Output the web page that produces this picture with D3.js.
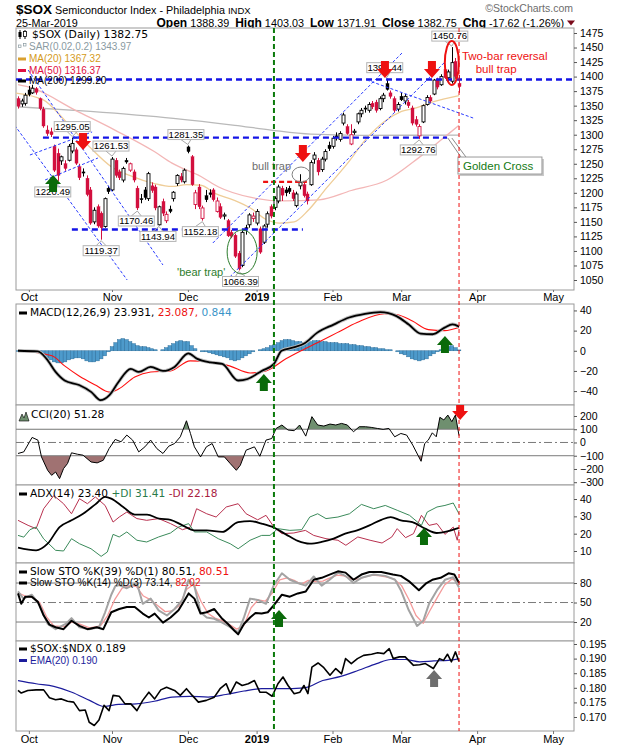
<!DOCTYPE html>
<html><head><meta charset="utf-8">
<script src="https://cdn.jsdelivr.net/npm/d3@7/dist/d3.min.js"></script>
<style>body{margin:0;background:#fff}svg{display:block}</style>
</head><body><svg id="c" width="620" height="750"></svg>
<script>
// ---------------- DATA ----------------
// Daily candles [open, high, low, close], 26-Sep-2018 .. 25-Mar-2019
const candles = [
[1362,1366,1345,1349],[1353,1362,1348,1358],[1354,1372,1350,1368],[1377,1384,1366,1369],[1372,1386,1370,1380],
[1379,1382,1369,1373],[1362,1364,1342,1345],[1344,1348,1312,1315],[1308,1316,1298,1302],[1305,1312,1296,1300],
[1280,1283,1236,1239],[1268,1276,1220.49,1230],[1255,1264,1248,1262],[1250,1256,1238,1242],[1256,1284,1254,1280],
[1272,1295.05,1268,1285],[1274,1278,1248,1251],[1245,1250,1222,1226],[1236,1242,1228,1234],[1225,1230,1194,1197],
[1205,1210,1145,1148],[1150,1175,1146,1170],[1176,1180,1140,1143],[1165,1168,1119.37,1140],[1142,1192,1140,1190],
[1208,1212,1198,1202],[1205,1261.53,1203,1258],[1256,1260,1226,1230],[1236,1240,1222,1226],[1222,1245,1218,1242],
[1256,1260,1250,1253],[1239,1252,1236,1250],[1236,1240,1218,1222],[1208,1212,1170.46,1174],[1190,1198,1182,1188],
[1205,1210,1188,1192],[1190,1236,1186,1233],[1212,1218,1200,1204],[1210,1214,1170,1174],[1145,1178,1143.94,1176],
[1185,1190,1160,1165],[1152,1168,1148,1163],[1172,1178,1165,1168],[1190,1203,1185,1201],[1216,1232,1212,1230],
[1228,1234,1218,1222],[1219,1242,1216,1239],[1279,1281.35,1268,1271],[1262,1265,1212,1214],[1180,1205,1172,1200],
[1210,1215,1172,1176],[1156,1178,1152.18,1174],[1195,1205,1184,1188],[1200,1206,1192,1197],[1205,1208,1185,1188],
[1168,1192,1166,1186],[1176,1182,1155,1158],[1160,1166,1154,1162],[1152,1155,1124,1126],[1132,1136,1122,1125],
[1127,1130,1088,1091],[1096,1100,1066.39,1069],[1075,1135,1072,1132],[1140,1145,1128,1138],[1145,1165,1140,1162],
[1156,1166,1150,1160],[1148,1172,1144,1168],[1138,1142,1095,1098],[1115,1146,1112,1143],[1146,1168,1140,1164],
[1176,1180,1156,1160],[1175,1194,1170,1190],[1186,1214,1182,1210],[1208,1212,1186,1196],[1205,1210,1194,1200],
[1208,1212,1198,1202],[1200,1205,1186,1190],[1178,1202,1175,1198],[1212,1232,1206,1218],[1214,1220,1192,1195],
[1198,1202,1180,1186],[1214,1256,1212,1252],[1258,1270,1250,1265],[1256,1260,1230,1236],[1240,1262,1236,1258],
[1258,1275,1254,1271],[1282,1288,1272,1276],[1280,1298,1276,1294],[1298,1304,1290,1296],[1292,1306,1288,1302],
[1320,1338,1316,1334],[1314,1318,1300,1302],[1284,1318,1282,1300],[1304,1310,1300,1306],[1322,1338,1318,1336],
[1336,1346,1330,1342],[1346,1350,1338,1344],[1342,1356,1338,1352],[1354,1358,1344,1348],[1356,1360,1338,1342],
[1345,1366,1342,1362],[1362,1372,1356,1368],[1388,1396.44,1376,1378],[1372,1376,1362,1366],[1362,1366,1338,1342],
[1344,1356,1340,1352],[1366,1372,1358,1360],[1358,1370,1352,1366],[1356,1360,1346,1350],[1346,1350,1316,1320],
[1326,1332,1314,1318],[1298,1318,1292.76,1314],[1322,1352,1320,1350],[1352,1368,1350,1364],[1364,1368,1354,1358],
[1370,1396,1368,1394],[1394,1398,1378,1382],[1386,1404,1384,1400],[1412,1418,1396,1398],[1398,1412,1392,1408],
[1392,1450.76,1388,1424],[1426,1432,1396,1400.37],[1388.39,1403.03,1371.91,1382.75]
];
const monthLabels = ["Oct","Nov","Dec","2019","Feb","Mar","Apr","May"];
const monthIdx = [3,26,47,66,87,106,127,148];
const priceTicks = [1050,1075,1100,1125,1150,1175,1200,1225,1250,1275,1300,1325,1350,1375,1400,1425,1450,1475];
const macdTicks = [40,20,0,-20,-40];
const cciTicks = [200,100,0,-100,-200,-300];
const adxTicks = [40,30,20,10];
const stoTicks = [80,50,20];
const ratioTicks = [0.195,0.190,0.185,0.180,0.175,0.170];

// moving averages [barIndex, value]
const ma20 = [[-1,1372],[7,1360],[12.9,1325],[19.8,1279],[25.8,1245],[31.7,1228],[37.7,1216],[42.6,1211],[46.6,1214],[50.6,1213],[54.5,1199],[59.5,1188],[64.5,1173],[68.4,1155],[72.4,1148],[76.4,1150],[80.3,1170],[85.3,1208],[91.2,1251],[96.2,1292],[101.2,1322],[106.1,1340],[110.1,1346],[115,1357],[122,1367.32]];
const ma50 = [[0,1386],[4,1380],[15.9,1342],[26.8,1308],[37.7,1271],[42.6,1251],[50.6,1228],[55.5,1210],[64.5,1192],[73.4,1186],[83.3,1188],[92.2,1204],[102.1,1222],[111,1261],[119,1301],[122,1316.37]];
const ma200 = [[0,1348],[20,1340],[43,1328],[60,1316],[70,1308],[81,1301],[95,1299],[122,1299.2]];

const macdLine = [[0,0],[5.5,-0.7],[7.9,-8],[10.4,-21],[12.9,-29.5],[16.9,-34],[20.3,-41],[22.8,-49],[25.3,-44],[27.8,-31],[31.2,-18],[33.4,-21],[36.7,-16],[40.1,-20],[43.3,-16],[47.1,-2.6],[49.6,-8],[53.2,-11.5],[56.5,-13],[60.9,-29.5],[63.5,-28],[67.4,-20],[70.8,-13],[72.9,0],[76.2,3.3],[79.3,7.5],[82.8,18],[87.3,26],[91.6,33],[96,36.7],[100.2,38.4],[104.7,34.4],[108.1,26],[111.4,17],[114.7,16.4],[118,23],[120.2,26.2],[122,23.931]];
const macdSignal = [[0,0],[9.4,-5],[12.9,-15],[16.9,-25],[21.4,-34],[25.3,-41],[27.8,-38],[32.3,-26],[36.7,-21],[42.2,-20],[47.6,-10],[53.2,-11],[58.5,-15],[64.2,-22],[68.6,-20],[74.1,-8],[78.3,0],[82.8,8],[88.3,18],[93.8,28],[101.4,36.7],[104.7,36],[109.1,29.5],[113.5,21],[118,20],[122,23.087]];
const macdHist = [-0.5,-0.8,-1,-1,-0.8,-1,-2,-4,-7,-9,-11,-12,-12,-11,-9,-8,-7,-7,-8,-10,-11,-11,-10,-8,-5,-1,
4,8,11,12,11,9,7,5,4,4,3,2,1,0,1,3,5,7,9,10,9,9,5,2,0,-1,-1,-2,-3,-4,-5,-6,-7,-9,-10,-9,-7,-5,-3,-1,0,1,
2,3,5,6,8,10,11,11,10,9,9,8,8,9,10,10,9,9,8,8,8,7,7,7,6,6,5,5,4,4,3,3,2,2,1,1,0,-1,
-3,-4,-6,-8,-9,-10,-9,-8,-5,-3,-1,1,3,4,5,3,0.844];

const cci = [[0,-83],[1.6,-71],[3.9,38],[5.5,18],[6.5,-109],[8.2,-210],[9.3,-248],[10.4,-223],[11.5,-273],[12.6,-197],[13.7,-159],[14.8,-78],[16.5,-89],[18,-96],[20.2,-147],[21.9,-154],[23.6,-134],[25.2,-46],[26.9,23],[28.5,5],[30.1,56],[31.7,18],[33.4,-71],[35.1,-33],[36.7,18],[38.4,-46],[40.1,-83],[41.7,-28],[43.3,-8],[44.9,43],[46.6,164],[47.7,68],[48.8,-33],[50.5,-109],[52.1,-33],[53.7,-8],[55.4,-109],[57.1,-109],[58.7,-159],[60.4,-210],[61.5,-172],[63.1,-58],[65.4,-33],[66.9,-104],[68.6,18],[70.2,30],[71.4,106],[73,132],[74.7,94],[76.4,89],[77.9,132],[79.6,48],[81.3,195],[82.9,132],[84.6,124],[86.3,139],[87.9,132],[89.5,144],[91.1,132],[92.8,81],[94.4,119],[96.1,119],[97.7,114],[99.4,106],[101,99],[102.6,106],[104.2,43],[105.9,68],[107.5,56],[109.2,-20],[111.5,-142],[112.5,-8],[113.5,18],[114.6,73],[115.7,43],[116.7,190],[117.8,170],[118.9,207],[120,157],[121,207],[122,51.28]];

const adx = [[0,11.9],[5,10.4],[8.2,14.2],[11.5,23.8],[14.8,27.7],[18,31.5],[21.4,36.9],[24.1,41.2],[25.8,40.2],[29.1,35.4],[32.3,31],[35.7,31],[39,28.7],[42.2,28],[45.5,24.8],[48.8,21.9],[52.2,21.9],[56.5,21],[60.9,26.7],[64.2,27.3],[67.4,25.8],[70.8,23.5],[74.1,19.6],[77.4,15.8],[80.7,14.2],[84,15.2],[87.3,17.1],[90.5,20],[93.8,21.9],[97.2,24.8],[100.5,28],[103.1,29.6],[105.9,27.7],[109.1,26.7],[112.6,22.9],[115.8,20.4],[119,21.5],[122,23.40]];
const plusDI = [[0,19],[1.6,18],[3.3,22.3],[5,23.8],[7.1,17],[10.4,10.4],[12.6,10],[14.8,17.1],[17,14.2],[20.2,11.3],[23,6.9],[24.7,9.4],[26.3,19.6],[28,18.1],[30.1,21],[32.9,16.2],[35.6,15.2],[38.9,18.1],[42.2,20.4],[44.4,23.8],[47.2,25.8],[48.8,21],[52.2,21],[55.4,17.1],[58.7,14.2],[60.9,11.3],[64.2,16.2],[67.4,19],[69.7,19],[71.9,22.9],[75.2,21.9],[78.5,22.3],[80.7,29.6],[82.9,31.5],[85.2,28.7],[88.5,29.6],[91.7,31.5],[95,36.9],[98.4,34.4],[101.6,36.3],[104.9,33.5],[108.3,30.6],[111.6,24.8],[113.2,32.5],[115.9,35.4],[118.1,36.3],[120.4,37.7],[122,31.41]];
const minusDI = [[0,27.7],[2.8,24.8],[5,22.9],[7.1,34.4],[9.9,42],[12.6,37.3],[14.8,31.5],[17,40.2],[19.2,37.3],[21.4,41.2],[24.1,36.3],[26.3,26.7],[28,29.6],[30.1,32.5],[32.9,28.7],[35.6,27.7],[38.9,28.7],[42.2,25.8],[45.5,22.3],[47.7,23.8],[49.4,34.4],[52.2,31.5],[54.8,29.6],[57.6,35.4],[60.9,37.3],[63.1,31.5],[66.3,28],[68.6,30.6],[70.8,23.8],[73,20],[76.3,20.4],[79.5,21.9],[81.8,19],[85.2,17.1],[88.5,16.2],[90.7,13.3],[94,18.1],[97.4,16.2],[100.7,14.6],[103.4,18.1],[104.9,22.9],[107.2,17.7],[109.4,20],[111.6,30.6],[113.7,24.8],[115.9,25.8],[118.1,19.6],[120.4,23.8],[121.5,16.2],[122,22.18]];

const sto39 = [[0,64],[0.9,48],[2,59],[3.8,59],[5.5,51],[7.1,30],[8.7,16],[10.4,12],[12.6,9],[14.8,22],[17,14],[19.2,9],[21.8,12],[23.6,9],[25.8,35],[28,40],[30.1,43],[32.3,43],[34.5,33],[36.2,27],[37.8,33],[40.1,19],[42.2,27],[44.4,38],[47.2,64],[48.8,56],[50.5,33],[52.2,35],[54.3,40],[56.5,25],[58.1,17],[59.8,7],[60.9,1],[62.5,17],[64.2,27],[65.7,34],[67.4,33],[69.1,35],[70.8,46],[73,62],[75.2,59],[77.4,64],[79.6,67],[81.8,85],[84,88],[86.2,93],[88.5,98],[90.6,96],[92.8,85],[95,93],[97.2,97],[100.5,97],[103.7,93],[105.9,91],[108.1,83],[110.9,69],[113,80],[114.6,85],[116.9,88],[119.1,95],[120.7,93],[122,80.51]];
const sto14K = [[0,67],[1.5,56],[3.8,62],[6,46],[8.2,17],[10.4,9],[13.2,17],[14.8,26],[17,12],[19.7,9],[22.4,12],[24.1,35],[25.8,62],[26.9,75],[28,77],[30.1,72],[32.9,80],[34.5,48],[36.7,56],[38.9,38],[41.2,30],[43.3,40],[45.5,54],[47.2,85],[48.8,75],[50.5,35],[52.2,27],[54.3,25],[56.5,19],[58.7,12],[60.9,4],[62.5,27],[64.2,56],[66.3,54],[68.6,48],[70.8,77],[73,95],[75.2,85],[77.4,80],[79.6,76],[81.8,90],[84,76],[86.2,85],[88.5,96],[90.6,91],[92.8,80],[95,88],[98.4,93],[101.6,91],[104.3,85],[105.9,69],[108.1,38],[110.4,14],[112.1,22],[113.7,48],[115.9,69],[118.1,85],[120.4,89],[122,73.14]];
const sto14D = [[0,65],[2,60],[4,58],[6,50],[7.9,28],[9.9,14],[12.9,13],[14.9,20],[16.9,17],[19.8,11],[22.8,14],[24.8,30],[26.8,55],[28.8,72],[30.7,76],[32.7,75],[34.7,60],[36.7,54],[38.7,45],[40.7,36],[42.6,37],[44.6,45],[46.6,70],[48.6,78],[50.6,52],[52.6,33],[54.5,26],[56.5,22],[58.5,16],[60.5,9],[62.5,15],[64.5,42],[66.4,54],[68.4,52],[70.4,65],[72.4,85],[74.4,88],[76.4,84],[78.3,78],[80.3,84],[82.3,82],[84.3,83],[86.3,88],[88.3,92],[90.2,91],[92.2,86],[94.2,86],[96.2,90],[98.2,92],[100.2,91],[102.1,89],[104.1,86],[106.1,76],[108.1,55],[110.1,30],[112.1,18],[114,38],[116,58],[118,77],[120,86],[122,82.02]];

const ratio = [[0,.1791],[0.9,.1782],[2.7,.1791],[5,.1793],[7.1,.1793],[8.7,.1766],[10.4,.1759],[12,.1762],[13.7,.1754],[15.4,.1751],[17,.1722],[18.6,.1724],[19.7,.1682],[21.1,.1671],[22.4,.169],[23.8,.174],[25.2,.1722],[26.3,.1774],[28,.1771],[29.6,.1745],[31.2,.1745],[32.9,.1722],[34.5,.1757],[36.2,.1785],[37.8,.1762],[39.5,.1793],[41.1,.1802],[43.3,.1791],[44.9,.1774],[46.6,.1797],[48.2,.1774],[49.9,.1751],[52.1,.1757],[54.3,.1768],[55.9,.1797],[57.6,.1814],[58.7,.178],[60.4,.182],[62,.1808],[63.7,.1814],[65.4,.1825],[66.9,.1785],[68.6,.1785],[70.3,.1771],[71.9,.1814],[73.3,.1837],[74.7,.1808],[76.4,.178],[78,.1785],[79.1,.1808],[80.2,.178],[81.3,.1871],[83,.1885],[84.6,.1869],[86.3,.1843],[87.9,.1866],[89.5,.1848],[90.6,.190],[92.2,.1883],[93.9,.190],[95.6,.1911],[97.8,.1915],[99.5,.192],[101.2,.1917],[102.7,.1934],[103.8,.190],[105.5,.1906],[107.1,.1906],[109.4,.1877],[111.1,.1879],[112.7,.1883],[114.9,.1866],[116.6,.190],[117.7,.1894],[118.8,.1915],[119.9,.1889],[121,.1923],[122,.189]];
const ratioEma = [[0,.1825],[5,.1814],[9.9,.1805],[14.9,.1785],[19.8,.1757],[23.8,.1736],[27.8,.1743],[32.7,.1745],[37.7,.1754],[42.6,.1768],[47.6,.1771],[52.6,.1768],[57.5,.1777],[62.5,.1789],[67.4,.1797],[72.4,.1797],[79.3,.18],[84.3,.1825],[89.3,.1839],[94.2,.186],[99.2,.1883],[103.1,.1897],[107.1,.1897],[111.1,.1889],[115,.1892],[119,.1894],[122,.190]];

// labelled highs / lows [value, barIndex, side, dx]
const priceMarks = [[1295.05,15,"hi",0],[1261.53,26,"hi",-1],[1220.49,11,"lo",-5],[1119.37,23,"lo",0],[1170.46,33,"lo",-1],[1143.94,39,"lo",-1],[1281.35,47,"hi",-2],[1152.18,51,"lo",-2],[1066.39,61,"lo",2],[1396.44,102,"hi",-2],[1292.76,111,"lo",-1],[1450.76,120,"hi",-2]];

// ---------------- LAYOUT / SCALES ----------------
const SANS = "'Liberation Sans', Arial, sans-serif";
const VERD = "'DejaVu Sans', Verdana, sans-serif";
const L = 16, R = 574;
const svg = d3.select("#c");
const defs = svg.append("defs");
const x = d3.scaleLinear().domain([-0.553, 153.8]).range([L, R]);
const yMain = d3.scaleLinear().domain([1032.8, 1483.6]).range([290, 28]);
const yMacd = d3.scaleLinear().domain([-53.8, 46.4]).range([405, 304]);
const yCci = d3.scaleLinear().domain([-321, 283]).range([485, 405]);
const yAdx = d3.scaleLinear().domain([3.07, 48.1]).range([563, 485]);
const ySto = d3.scaleLinear().domain([-9.2, 110.8]).range([641, 563]);
const yRat = d3.scaleLinear().domain([0.16521, 0.19603]).range([731, 641]);

function panel(name, sc) {
  const [y1, y0] = sc.range();
  svg.append("rect").attr("x", L).attr("y", y0).attr("width", R - L).attr("height", y1 - y0)
    .attr("fill", "#fff").attr("stroke", "#9a9a9a");
  defs.append("clipPath").attr("id", "clip-" + name).append("rect")
    .attr("x", L).attr("y", y0).attr("width", R - L).attr("height", y1 - y0);
  return svg.append("g").attr("clip-path", "url(#clip-" + name + ")");
}
function rightAxis(sc, ticks, fmt) {
  const g = svg.append("g").attr("transform", `translate(${R},0)`)
    .call(d3.axisRight(sc).tickValues(ticks).tickSize(3).tickPadding(3).tickFormat(fmt));
  g.select(".domain").remove();
  g.selectAll("text").attr("font-family", SANS).attr("font-size", 10.5).attr("fill", "#000");
  g.selectAll("line").attr("stroke", "#555");
}
function bottomAxis(yPos, size, pad) {
  const g = svg.append("g").attr("transform", `translate(0,${yPos})`)
    .call(d3.axisBottom(x).tickValues(monthIdx).tickSize(size).tickPadding(pad).tickFormat((d, i) => monthLabels[i]));
  g.select(".domain").remove();
  g.selectAll("text").attr("font-family", SANS).attr("font-size", 11).attr("fill", "#000")
    .attr("font-weight", (d, i) => monthLabels[i] === "2019" ? "bold" : "normal");
  g.selectAll("line").attr("stroke", "#777");
}
const lineOf = (sc, curve) => d3.line().x(d => x(d[0])).y(d => sc(d[1])).curve(curve || d3.curveLinear);
function path(g, data, sc, color, w, curve) {
  return g.append("path").datum(data).attr("d", lineOf(sc, curve)).attr("fill", "none")
    .attr("stroke", color).attr("stroke-width", w).attr("stroke-linejoin", "round");
}
function hline(g, sc, v, dash) {
  g.append("line").attr("x1", L).attr("x2", R).attr("y1", sc(v)).attr("y2", sc(v))
    .attr("stroke", "#7a7a7a").attr("stroke-width", 1).attr("stroke-dasharray", dash || null);
}
function arrow(g, cx, tip, dir, color) {
  // dir = 1 -> pointing down, -1 -> pointing up
  const pts = [[-4, -17], [4, -17], [4, -9], [8, -9], [0, 0], [-8, -9], [-4, -9]]
    .map(p => [cx + p[0], tip + p[1] * dir]);
  g.append("polygon").attr("points", pts.map(p => p.join(",")).join(" ")).attr("fill", color);
}
function legend(items, xx, yy, font, size) {
  const t = svg.append("text").attr("x", xx).attr("y", yy).attr("font-family", font).attr("font-size", size);
  items.forEach(it => t.append("tspan").attr("fill", it[1]).text(it[0]));
  return t;
}
function dashIcon(xx, yy, color) {
  svg.append("rect").attr("x", xx).attr("y", yy - 4.5).attr("width", 8).attr("height", 3).attr("fill", color);
}

// ---------------- HEADER ----------------
const title = svg.append("text").attr("x", 16).attr("y", 14).attr("font-family", SANS).attr("fill", "#000");
title.append("tspan").attr("font-weight", "bold").attr("font-size", 13.5).text("$SOX");
title.append("tspan").attr("font-size", 10.8).text(" Semiconductor Index - Philadelphia ");
title.append("tspan").attr("font-size", 9.5).text("INDX");
svg.append("text").attr("x", 16).attr("y", 26.5).attr("font-family", SANS).attr("font-size", 10.8).text("25-Mar-2019");
svg.append("text").attr("x", 573).attr("y", 12).attr("text-anchor", "end").attr("font-family", SANS)
  .attr("font-size", 10.5).attr("fill", "#6d6d6d").text("\u00A9StockCharts.com");
const hdr = svg.append("text").attr("x", 564).attr("y", 26.5).attr("text-anchor", "end").attr("font-family", SANS).attr("fill", "#000");
[["Open", 1], [" 1388.39  ", 0], ["High", 1], [" 1403.03  ", 0], ["Low", 1], [" 1371.91  ", 0], ["Close", 1], [" 1382.75  ", 0], ["Chg", 1], [" -17.62 (-1.26%)", 0]]
  .forEach(p => hdr.append("tspan").attr("font-weight", p[1] ? "bold" : "normal").attr("font-size", p[1] ? 12 : 10.8).attr("xml:space", "preserve").text(p[0]));
svg.append("polygon").attr("points", "567,20.5 575,20.5 571,25.5").attr("fill", "#7a0a1a");

// ---------------- MAIN PANEL ----------------
const gm = panel("main", yMain);
path(gm, ma200, yMain, "#b9b9b9", 1.3, d3.curveMonotoneX);
path(gm, ma50, yMain, "#f3b6b6", 1.3, d3.curveMonotoneX);
path(gm, ma20, yMain, "#efcd98", 1.3, d3.curveMonotoneX);

const RED = "#d3103f";
candles.forEach((c, i) => {
  const [o, h, l, cl] = c;
  const prev = i === 0 ? o : candles[i - 1][3];
  const col = cl < prev ? RED : "#000";
  const filled = cl < o;
  const cx = Math.round(x(i)) + 0.5;
  gm.append("line").attr("x1", cx).attr("x2", cx).attr("y1", yMain(h)).attr("y2", yMain(l)).attr("stroke", col).attr("stroke-width", 1);
  const top = yMain(Math.max(o, cl)), bot = yMain(Math.min(o, cl));
  gm.append("rect").attr("x", cx - 1.5).attr("y", top).attr("width", 3).attr("height", Math.max(0.8, bot - top))
    .attr("fill", filled ? col : "#fff").attr("stroke", col).attr("stroke-width", filled ? 0.4 : 0.9);
});

// legend main
const lg = svg.append("g");
lg.append("line").attr("x1", 20).attr("x2", 20).attr("y1", 30).attr("y2", 39).attr("stroke", "#000");
lg.append("rect").attr("x", 18.5).attr("y", 32).attr("width", 3).attr("height", 5).attr("fill", "#000");
lg.append("line").attr("x1", 25).attr("x2", 25).attr("y1", 30).attr("y2", 39).attr("stroke", "#000");
lg.append("rect").attr("x", 23.5).attr("y", 31.5).attr("width", 3).attr("height", 5).attr("fill", "#fff").attr("stroke", "#000").attr("stroke-width", 0.8);
legend([["$SOX (Daily) 1382.75", "#000"]], 32, 38, VERD, 10.8);
lg.append("rect").attr("x", 18.5).attr("y", 45).attr("width", 2.5).attr("height", 2.5).attr("fill", "none").attr("stroke", "#8a9aa2").attr("stroke-width", 0.7);
lg.append("rect").attr("x", 23.5).attr("y", 43.5).attr("width", 2.5).attr("height", 2.5).attr("fill", "none").attr("stroke", "#8a9aa2").attr("stroke-width", 0.7);
legend([["SAR(0.02,0.2) 1343.97", "#8a9aa2"]], 29, 50, SANS, 10);
dashIcon(18, 62, "#d9a030"); legend([["MA(20) 1367.32", "#d49a20"]], 29, 62, SANS, 10);
dashIcon(18, 73.5, "#e01040"); legend([["MA(50) 1316.37", "#e01040"]], 29, 73.5, SANS, 10);
dashIcon(18, 84, "#000"); legend([["MA(200) 1299.20", "#000"]], 29, 84, SANS, 10);

// horizontal support / resistance lines (blue dashed) and red dashed
const hLevels = [[1395, -0.553, 153.8], [1295, 6.9, 118.7], [1137, 14.9, 78.8]];
hLevels.forEach(h => gm.append("line").attr("x1", x(h[1])).attr("x2", x(h[2])).attr("y1", yMain(h[0])).attr("y2", yMain(h[0]))
  .attr("stroke", "#1414e6").attr("stroke-width", 2.4).attr("stroke-dasharray", "6,4"));
gm.append("line").attr("x1", x(67.8)).attr("x2", x(79.9)).attr("y1", yMain(1219)).attr("y2", yMain(1219))
  .attr("stroke", "#ee1111").attr("stroke-width", 2.2).attr("stroke-dasharray", "5,3");

// trend lines [i1, p1, i2, p2]
const trendLines = [[-5, 1351.1, 30.2, 1050], [2.8, 1411.3, 40.1, 1075.8], [3.3, 1265.1, 20.5, 1304.7], [7.5, 1222.1, 22.1, 1259.9],
  [53.9, 1113.7, 106.5, 1442.3], [58.6, 1055.2, 118.1, 1425.1], [96.5, 1394.1, 125.9, 1328.7]];
trendLines.forEach(t => gm.append("line").attr("x1", x(t[0])).attr("y1", yMain(t[1])).attr("x2", x(t[2])).attr("y2", yMain(t[3]))
  .attr("stroke", "#2a3cff").attr("stroke-width", 1).attr("stroke-dasharray", "3,2"));

// price labels
priceMarks.forEach(m => {
  const [v, i, side, dx] = m;
  const px = x(i), py = yMain(v);
  const txt = v.toFixed(2);
  const w = 36, hgt = 10;
  const cx = px + dx;
  const by = side === "hi" ? py - 6 - hgt : py + 6;
  const edge = side === "hi" ? by + hgt : by;
  gm.append("path").attr("d", `M${cx - 5},${edge} L${px},${side === "hi" ? py - 1 : py + 1} L${cx + 5},${edge}`)
    .attr("fill", "none").attr("stroke", "#a8a8a8").attr("stroke-width", 1);
  gm.append("rect").attr("x", cx - w / 2).attr("y", by).attr("width", w).attr("height", hgt)
    .attr("fill", "#fff").attr("stroke", "#b4b4b4").attr("stroke-width", 1);
  gm.append("text").attr("x", cx).attr("y", by + hgt - 1.6).attr("text-anchor", "middle")
    .attr("font-family", SANS).attr("font-size", 9.6).attr("fill", "#000").text(txt);
});

// ellipses and notes
gm.append("ellipse").attr("cx", x(62)).attr("cy", yMain(1098.2)).attr("rx", 15).attr("ry", 22)
  .attr("fill", "none").attr("stroke", "#2d7d2d").attr("stroke-width", 1);
gm.append("ellipse").attr("cx", x(78.3)).attr("cy", yMain(1231.5)).attr("rx", 9).attr("ry", 7.5)
  .attr("fill", "none").attr("stroke", "#808080").attr("stroke-width", 1);
gm.append("ellipse").attr("cx", x(120)).attr("cy", yMain(1423.4)).attr("rx", 7).attr("ry", 22)
  .attr("fill", "none").attr("stroke", "#ee1111").attr("stroke-width", 2);
gm.append("text").attr("x", x(44)).attr("y", yMain(1056.9)).attr("font-family", SANS).attr("font-size", 11)
  .attr("fill", "#2d7d2d").text("'bear trap'");
gm.append("text").attr("x", x(64.7)).attr("y", yMain(1239.3)).attr("font-family", SANS).attr("font-size", 11)
  .attr("fill", "#6e6e6e").text("bull trap");
svg.append("text").attr("x", x(122.8)).attr("y", yMain(1428.5)).attr("font-family", SANS).attr("font-size", 11.5)
  .attr("fill", "#ee1111").text("Two-bar reversal");
svg.append("text").attr("x", x(126.6)).attr("y", yMain(1405.5)).attr("font-family", SANS).attr("font-size", 11.5)
  .attr("fill", "#ee1111").text("bull trap");
// golden cross callout
const gcX = x(121.7), gcY = yMain(1261.6), gcW = 84, gcH = 17;
gm.append("path").attr("d", `M${x(118.9)},${yMain(1294.3)} L${gcX + 3},${gcY} M${x(118.9) + 4},${yMain(1294.3)} L${gcX + 8},${gcY}`)
  .attr("stroke", "#8a8a8a").attr("fill", "none");
gm.append("rect").attr("x", gcX + 2).attr("y", gcY + 2).attr("width", gcW).attr("height", gcH).attr("fill", "#c8c8c8");
gm.append("rect").attr("x", gcX).attr("y", gcY).attr("width", gcW).attr("height", gcH).attr("fill", "#fff").attr("stroke", "#9a9a9a");
gm.append("text").attr("x", gcX + 5).attr("y", gcY + 12.5).attr("font-family", SANS).attr("font-size", 11.5)
  .attr("fill", "#147a14").text("Golden Cross");

// arrows main
[[18, 1273.7], [78.8, 1253], [101.5, 1397.6], [114.5, 1397.6]].forEach(a => arrow(gm, x(a[0]), yMain(a[1]), 1, "#ee1111"));
arrow(gm, x(9.7), yMain(1230.7), -1, "#0a6a0a");

rightAxis(yMain, priceTicks, d3.format("d"));
bottomAxis(290, 2, 1);

// ---------------- MACD ----------------
const gM = panel("macd", yMacd);
const bw = x(1) - x(0);
macdHist.forEach((v, i) => {
  const y0 = yMacd(0), y1 = yMacd(v);
  gM.append("rect").attr("x", x(i) - bw / 2).attr("y", Math.min(y0, y1)).attr("width", bw).attr("height", Math.abs(y1 - y0))
    .attr("fill", "#4d9acb").attr("stroke", "#2c6f9c").attr("stroke-width", 0.5);
});
path(gM, macdSignal, yMacd, "#ff1010", 1.1, d3.curveMonotoneX);
path(gM, macdLine, yMacd, "#bdbdbd", 3.5, d3.curveMonotoneX);
path(gM, macdLine, yMacd, "#000", 1.8, d3.curveMonotoneX);
arrow(gM, x(68), yMacd(-23), -1, "#0a6a0a");
arrow(gM, x(118.1), yMacd(14.7), -1, "#0a6a0a");
dashIcon(19, 316, "#000");
legend([["MACD(12,26,9) 23.931, ", "#000"], ["23.087, ", "#ee1111"], ["0.844", "#3a94c8"]], 30, 316, VERD, 10.6);
rightAxis(yMacd, macdTicks, d3.format("d"));

// ---------------- CCI ----------------
const gC = panel("cci", yCci);
defs.append("clipPath").attr("id", "cci-up").append("rect").attr("x", L).attr("y", 405).attr("width", R - L).attr("height", yCci(100) - 405);
defs.append("clipPath").attr("id", "cci-dn").append("rect").attr("x", L).attr("y", yCci(-100)).attr("width", R - L).attr("height", 485 - yCci(-100));
gC.append("path").datum(cci).attr("clip-path", "url(#cci-up)").attr("fill", "#6f8f6f")
  .attr("d", d3.area().x(d => x(d[0])).y0(yCci(100)).y1(d => yCci(d[1])));
gC.append("path").datum(cci).attr("clip-path", "url(#cci-dn)").attr("fill", "#a07272")
  .attr("d", d3.area().x(d => x(d[0])).y0(yCci(-100)).y1(d => yCci(d[1])));
hline(gC, yCci, 100); hline(gC, yCci, -100); hline(gC, yCci, 0, "8,3,2,3");
path(gC, cci, yCci, "#000", 1);
arrow(gC, x(122.3), yCci(170), 1, "#ee1111");
svg.append("polygon").attr("points", "19,421 22,414 24,418 26,412 29,421").attr("fill", "#6f8f6f").attr("stroke", "#000").attr("stroke-width", 0.6);
legend([["CCI(20) 51.28", "#000"]], 31, 418, VERD, 10.6);
rightAxis(yCci, cciTicks, d3.format("d"));

// ---------------- ADX ----------------
const gA = panel("adx", yAdx);
path(gA, minusDI, yAdx, "#b8304e", 1);
path(gA, plusDI, yAdx, "#3a8a5a", 1);
path(gA, adx, yAdx, "#000", 1.8, d3.curveMonotoneX);
arrow(gA, x(112.3), yAdx(23.3), -1, "#0a6a0a");
dashIcon(19, 497, "#000");
legend([["ADX(14) 23.40 ", "#000"], ["+DI 31.41 ", "#2a7a4a"], ["-DI 22.18", "#a8203e"]], 30, 497, VERD, 10.6);
rightAxis(yAdx, adxTicks, d3.format("d"));

// ---------------- SLOW STO ----------------
const gS = panel("sto", ySto);
hline(gS, ySto, 80); hline(gS, ySto, 20); hline(gS, ySto, 50, "8,3,2,3");
path(gS, sto14D, ySto, "#f49a9a", 1.3);
path(gS, sto14K, ySto, "#a3a3a3", 2);
path(gS, sto39, ySto, "#000", 2);
arrow(gS, x(72.2), ySto(38.5), -1, "#0a6a0a");
dashIcon(19, 575, "#000");
legend([["Slow STO %K(39) %D(1) 80.51, ", "#000"], ["80.51", "#ee1111"]], 30, 575, VERD, 10.6);
dashIcon(19, 586, "#000");
legend([["Slow STO %K(14) %D(3) 73.14, ", "#000"], ["82.02", "#ee1111"]], 30, 586, SANS, 10);
rightAxis(ySto, stoTicks, d3.format("d"));

// ---------------- RATIO ----------------
const gR = panel("ratio", yRat);
path(gR, ratioEma, yRat, "#1c1c9c", 1.2, d3.curveMonotoneX);
path(gR, ratio, yRat, "#000", 1.6);
arrow(gR, x(115.1), yRat(0.1861), -1, "#6e6e6e");
dashIcon(19, 652, "#000");
legend([["$SOX:$NDX 0.189", "#000"]], 30, 652, VERD, 10.6);
dashIcon(19, 663.5, "#1c1c9c");
legend([["EMA(20) 0.190", "#1c1c9c"]], 30, 663.5, SANS, 10);
rightAxis(yRat, ratioTicks, d3.format(".3f"));
bottomAxis(731, 3, 1);

// ---------------- VERTICAL MARKERS ----------------
svg.append("line").attr("x1", x(70.8)).attr("x2", x(70.8)).attr("y1", 28).attr("y2", 731)
  .attr("stroke", "#0b7a0b").attr("stroke-width", 2).attr("stroke-dasharray", "5,3");
svg.append("line").attr("x1", x(122)).attr("x2", x(122)).attr("y1", 28).attr("y2", 731)
  .attr("stroke", "#ee1111").attr("stroke-width", 1).attr("stroke-dasharray", "4,3");
</script></body></html>
